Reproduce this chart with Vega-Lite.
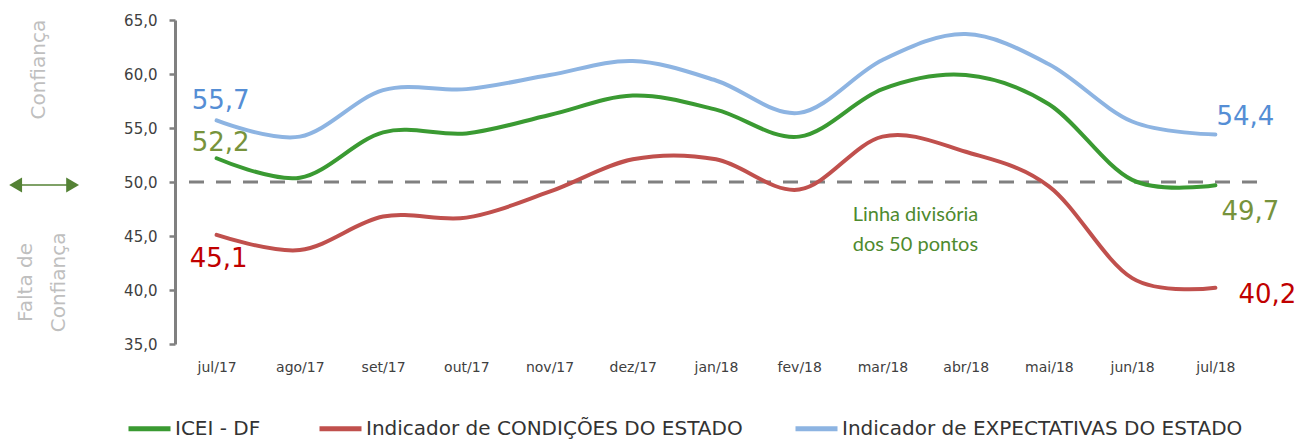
{
  "$schema": "https://vega.github.io/schema/vega-lite/v6.json",
  "width": 1082,
  "height": 324,
  "autosize": {"type": "none"},
  "padding": {"left": 175, "top": 20, "right": 56, "bottom": 95},
  "background": "white",
  "config": {
    "view": {"stroke": null},
    "locale": {"number": {"decimal": ",", "thousands": ".", "grouping": [3], "currency": ["R$", ""]}}
  },
  "datasets": {
    "serie": [
      {"mes": "jul/17", "serie": "ICEI  - DF", "valor": 52.2},
      {"mes": "ago/17", "serie": "ICEI  - DF", "valor": 50.4},
      {"mes": "set/17", "serie": "ICEI  - DF", "valor": 54.6},
      {"mes": "out/17", "serie": "ICEI  - DF", "valor": 54.5},
      {"mes": "nov/17", "serie": "ICEI  - DF", "valor": 56.2},
      {"mes": "dez/17", "serie": "ICEI  - DF", "valor": 58.0},
      {"mes": "jan/18", "serie": "ICEI  - DF", "valor": 56.7},
      {"mes": "fev/18", "serie": "ICEI  - DF", "valor": 54.2},
      {"mes": "mar/18", "serie": "ICEI  - DF", "valor": 58.6},
      {"mes": "abr/18", "serie": "ICEI  - DF", "valor": 59.9},
      {"mes": "mai/18", "serie": "ICEI  - DF", "valor": 57.2},
      {"mes": "jun/18", "serie": "ICEI  - DF", "valor": 50.2},
      {"mes": "jul/18", "serie": "ICEI  - DF", "valor": 49.7},
      {"mes": "jul/17", "serie": "Indicador de CONDIÇÕES DO ESTADO", "valor": 45.1},
      {"mes": "ago/17", "serie": "Indicador de CONDIÇÕES DO ESTADO", "valor": 43.7},
      {"mes": "set/17", "serie": "Indicador de CONDIÇÕES DO ESTADO", "valor": 46.8},
      {"mes": "out/17", "serie": "Indicador de CONDIÇÕES DO ESTADO", "valor": 46.7},
      {"mes": "nov/17", "serie": "Indicador de CONDIÇÕES DO ESTADO", "valor": 49.1},
      {"mes": "dez/17", "serie": "Indicador de CONDIÇÕES DO ESTADO", "valor": 52.1},
      {"mes": "jan/18", "serie": "Indicador de CONDIÇÕES DO ESTADO", "valor": 52.1},
      {"mes": "fev/18", "serie": "Indicador de CONDIÇÕES DO ESTADO", "valor": 49.3},
      {"mes": "mar/18", "serie": "Indicador de CONDIÇÕES DO ESTADO", "valor": 54.2},
      {"mes": "abr/18", "serie": "Indicador de CONDIÇÕES DO ESTADO", "valor": 52.8},
      {"mes": "mai/18", "serie": "Indicador de CONDIÇÕES DO ESTADO", "valor": 49.6},
      {"mes": "jun/18", "serie": "Indicador de CONDIÇÕES DO ESTADO", "valor": 41.1},
      {"mes": "jul/18", "serie": "Indicador de CONDIÇÕES DO ESTADO", "valor": 40.2},
      {"mes": "jul/17", "serie": "Indicador de EXPECTATIVAS  DO ESTADO", "valor": 55.7},
      {"mes": "ago/17", "serie": "Indicador de EXPECTATIVAS  DO ESTADO", "valor": 54.2},
      {"mes": "set/17", "serie": "Indicador de EXPECTATIVAS  DO ESTADO", "valor": 58.5},
      {"mes": "out/17", "serie": "Indicador de EXPECTATIVAS  DO ESTADO", "valor": 58.6},
      {"mes": "nov/17", "serie": "Indicador de EXPECTATIVAS  DO ESTADO", "valor": 59.9},
      {"mes": "dez/17", "serie": "Indicador de EXPECTATIVAS  DO ESTADO", "valor": 61.2},
      {"mes": "jan/18", "serie": "Indicador de EXPECTATIVAS  DO ESTADO", "valor": 59.4},
      {"mes": "fev/18", "serie": "Indicador de EXPECTATIVAS  DO ESTADO", "valor": 56.4},
      {"mes": "mar/18", "serie": "Indicador de EXPECTATIVAS  DO ESTADO", "valor": 61.3},
      {"mes": "abr/18", "serie": "Indicador de EXPECTATIVAS  DO ESTADO", "valor": 63.7},
      {"mes": "mai/18", "serie": "Indicador de EXPECTATIVAS  DO ESTADO", "valor": 60.9},
      {"mes": "jun/18", "serie": "Indicador de EXPECTATIVAS  DO ESTADO", "valor": 55.6},
      {"mes": "jul/18", "serie": "Indicador de EXPECTATIVAS  DO ESTADO", "valor": 54.4}
    ],
    "vazio": [{}]
  },
  "data": {"name": "serie"},
  "layer": [
    {
      "data": {"name": "vazio"},
      "mark": {"type": "rule", "color": "#808080", "strokeWidth": 3, "strokeDash": [15, 12]},
      "encoding": {"y": {"datum": 50, "type": "quantitative"}}
    },
    {
      "mark": {"type": "line", "interpolate": "cardinal", "strokeWidth": 4, "strokeCap": "round"},
      "encoding": {
        "x": {
          "field": "mes", "type": "ordinal", "title": null,
          "scale": {"type": "point", "padding": 0.5, "domain": ["jul/17","ago/17","set/17","out/17","nov/17","dez/17","jan/18","fev/18","mar/18","abr/18","mai/18","jun/18","jul/18"]},
          "axis": {"domain": false, "ticks": false, "grid": false, "labelAngle": 0, "labelFont": "DejaVu Sans", "labelFontSize": 14, "labelColor": "#404040", "labelPadding": 16}
        },
        "y": {
          "field": "valor", "type": "quantitative", "title": null,
          "scale": {"domain": [35, 65], "nice": false, "zero": false},
          "axis": {"values": [35, 40, 45, 50, 55, 60, 65], "grid": false, "domainColor": "#808080", "domainWidth": 3, "tickColor": "#808080", "tickWidth": 2.5, "tickSize": 6, "labelFont": "DejaVu Sans", "labelFontSize": 15, "labelColor": "#404040", "labelPadding": 12, "labelExpr": "replace(format(datum.value, '.1f'), '.', ',')"}
        },
        "color": {
          "field": "serie", "type": "nominal",
          "scale": {"domain": ["ICEI  - DF", "Indicador de CONDIÇÕES DO ESTADO", "Indicador de EXPECTATIVAS  DO ESTADO"], "range": ["#3A9A32", "#C0504D", "#8DB4E2"]},
          "legend": {"title": null, "orient": "none", "legendX": -49, "legendY": 385, "direction": "horizontal", "symbolType": "stroke", "symbolSize": 1764, "symbolStrokeWidth": 5, "labelFont": "DejaVu Sans", "labelFontSize": 20, "labelColor": "#333333", "labelOffset": 2, "columnPadding": 42, "labelLimit": 0}
        }
      }
    },
    {
      "transform": [{"filter": "datum.mes == 'jul/17' && datum.serie == 'Indicador de EXPECTATIVAS  DO ESTADO'"}],
      "mark": {"type": "text", "font": "DejaVu Sans", "fontSize": 26, "color": "#558ED5", "align": "center", "baseline": "middle", "dx": 4, "dy": -19},
      "encoding": {"x": {"field": "mes", "type": "ordinal", "title": null}, "y": {"field": "valor", "type": "quantitative", "title": null}, "text": {"field": "valor", "type": "quantitative", "format": ".1f"}}
    },
    {
      "transform": [{"filter": "datum.mes == 'jul/17' && datum.serie == 'ICEI  - DF'"}],
      "mark": {"type": "text", "font": "DejaVu Sans", "fontSize": 26, "color": "#77933C", "align": "center", "baseline": "middle", "dx": 4, "dy": -15},
      "encoding": {"x": {"field": "mes", "type": "ordinal", "title": null}, "y": {"field": "valor", "type": "quantitative", "title": null}, "text": {"field": "valor", "type": "quantitative", "format": ".1f"}}
    },
    {
      "transform": [{"filter": "datum.mes == 'jul/17' && datum.serie == 'Indicador de CONDIÇÕES DO ESTADO'"}],
      "mark": {"type": "text", "font": "DejaVu Sans", "fontSize": 26, "color": "#C00000", "align": "center", "baseline": "middle", "dx": 2, "dy": 24},
      "encoding": {"x": {"field": "mes", "type": "ordinal", "title": null}, "y": {"field": "valor", "type": "quantitative", "title": null}, "text": {"field": "valor", "type": "quantitative", "format": ".1f"}}
    },
    {
      "transform": [{"filter": "datum.mes == 'jul/18' && datum.serie == 'Indicador de EXPECTATIVAS  DO ESTADO'"}],
      "mark": {"type": "text", "font": "DejaVu Sans", "fontSize": 26, "color": "#558ED5", "align": "center", "baseline": "middle", "dx": 30, "dy": -17},
      "encoding": {"x": {"field": "mes", "type": "ordinal", "title": null}, "y": {"field": "valor", "type": "quantitative", "title": null}, "text": {"field": "valor", "type": "quantitative", "format": ".1f"}}
    },
    {
      "transform": [{"filter": "datum.mes == 'jul/18' && datum.serie == 'ICEI  - DF'"}],
      "mark": {"type": "text", "font": "DejaVu Sans", "fontSize": 26, "color": "#77933C", "align": "center", "baseline": "middle", "dx": 35, "dy": 27},
      "encoding": {"x": {"field": "mes", "type": "ordinal", "title": null}, "y": {"field": "valor", "type": "quantitative", "title": null}, "text": {"field": "valor", "type": "quantitative", "format": ".1f"}}
    },
    {
      "transform": [{"filter": "datum.mes == 'jul/18' && datum.serie == 'Indicador de CONDIÇÕES DO ESTADO'"}],
      "mark": {"type": "text", "font": "DejaVu Sans", "fontSize": 26, "color": "#C00000", "align": "center", "baseline": "middle", "dx": 52, "dy": 7},
      "encoding": {"x": {"field": "mes", "type": "ordinal", "title": null}, "y": {"field": "valor", "type": "quantitative", "title": null}, "text": {"field": "valor", "type": "quantitative", "format": ".1f"}}
    },
    {
      "data": {"name": "vazio"},
      "mark": {"type": "text", "text": ["Linha divisória", "dos 50 pontos"], "font": "Lato", "fontSize": 20, "color": "#4E8A2E", "lineHeight": 30, "align": "center", "baseline": "middle", "xOffset": 33, "yOffset": 33},
      "encoding": {"x": {"datum": "mar/18", "type": "ordinal"}, "y": {"datum": 50, "type": "quantitative"}}
    },
    {
      "data": {"name": "vazio"},
      "mark": {"type": "text", "text": "Confiança", "angle": 270, "font": "DejaVu Sans", "fontSize": 20, "color": "#BFBFBF", "align": "center", "baseline": "middle", "xOffset": -178},
      "encoding": {"x": {"datum": "jul/17", "type": "ordinal"}, "y": {"datum": 60.4, "type": "quantitative"}}
    },
    {
      "data": {"name": "vazio"},
      "mark": {"type": "text", "text": ["Falta de", "Confiança"], "angle": 270, "font": "DejaVu Sans", "fontSize": 20, "color": "#BFBFBF", "lineHeight": 33, "align": "center", "baseline": "middle", "xOffset": -191},
      "encoding": {"x": {"datum": "jul/17", "type": "ordinal"}, "y": {"datum": 40.7, "type": "quantitative"}}
    },
    {
      "data": {"name": "vazio"},
      "mark": {"type": "rule", "color": "#548235", "strokeWidth": 1.5, "xOffset": -205, "x2Offset": -140, "yOffset": 3},
      "encoding": {"x": {"datum": "jul/17", "type": "ordinal"}, "x2": {"datum": "jul/17"}, "y": {"datum": 50, "type": "quantitative"}}
    },
    {
      "data": {"name": "vazio"},
      "mark": {"type": "point", "shape": "triangle-left", "filled": true, "size": 220, "opacity": 1, "color": "#548235", "xOffset": -201, "yOffset": 3},
      "encoding": {"x": {"datum": "jul/17", "type": "ordinal"}, "y": {"datum": 50, "type": "quantitative"}}
    },
    {
      "data": {"name": "vazio"},
      "mark": {"type": "point", "shape": "triangle-right", "filled": true, "size": 220, "opacity": 1, "color": "#548235", "xOffset": -144, "yOffset": 3},
      "encoding": {"x": {"datum": "jul/17", "type": "ordinal"}, "y": {"datum": 50, "type": "quantitative"}}
    }
  ]
}
